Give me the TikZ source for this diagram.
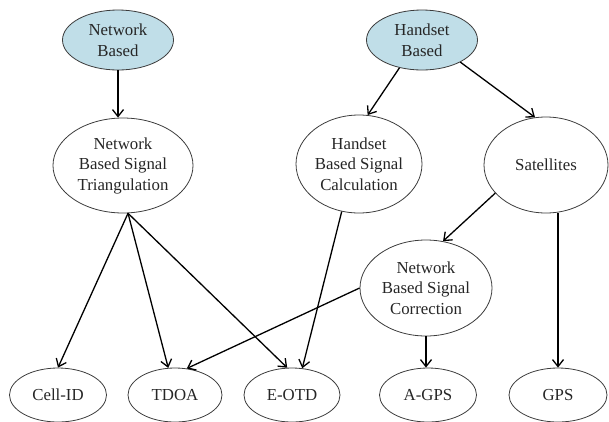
\documentclass[tikz,border=0pt]{standalone}
\usepackage{fontspec}
\setmainfont{Liberation Serif}
\usetikzlibrary{shapes.geometric,arrows.meta}
\definecolor{bluefill}{RGB}{192,222,232}
\definecolor{edgegray}{RGB}{60,60,60}
\tikzset{
  ell/.style={ellipse, draw=edgegray, line width=0.8pt, inner sep=0pt, align=center,
    font=\fontsize{16.8}{20.5}\selectfont, text=black!85},
  arr/.style={line width=1.3pt, -{Straight Barb[length=7pt,width=11pt,line width=1.3pt]}}
}
\begin{document}
\begin{tikzpicture}[x=1pt,y=-1pt]
\useasboundingbox (0,0) rectangle (609,421);
\node[ell, fill=bluefill, minimum width=111pt, minimum height=60pt] (nb) at (118,40) {Network\\Based};
\node[ell, fill=bluefill, minimum width=111pt, minimum height=60pt] (hb) at (422,40) {Handset\\Based};
\node[ell, minimum width=140pt, minimum height=95pt] (nbst) at (123,165.5) {Network\\Based Signal\\Triangulation};
\node[ell, minimum width=126pt, minimum height=98pt] (hbsc) at (359,164) {Handset\\Based Signal\\Calculation};
\node[ell, minimum width=124pt, minimum height=96pt] (sat) at (546,165) {Satellites};
\node[ell, minimum width=132pt, minimum height=96pt] (nbsc) at (426,288) {Network\\Based Signal\\Correction};
\node[ell, minimum width=97pt, minimum height=54pt] (cell) at (58,395) {Cell-ID};
\node[ell, minimum width=94pt, minimum height=54pt] (tdoa) at (175,395) {TDOA};
\node[ell, minimum width=96pt, minimum height=54pt] (eotd) at (292,395) {E-OTD};
\node[ell, minimum width=97pt, minimum height=54pt] (agps) at (428,395) {A-GPS};
\node[ell, minimum width=98pt, minimum height=54pt] (gps) at (558,395) {GPS};
\coordinate (o) at (nbst.276);
\draw[arr] (nb.south) -- (nb.south |- nbst.north);
\draw[arr] (hb.231) -- (hbsc.80);
\draw[arr] (hb.330) -- (sat.103);
\draw[arr] (o) -- (cell.north);
\draw[arr] (o) -- (tdoa.104);
\draw[arr] (o) -- (eotd.100);
\draw[arr] (hbsc.250) -- (eotd.69);
\draw[arr] (nbsc.west) -- (tdoa.66);
\draw[arr] (sat.209) -- (nbsc.70);
\draw[arr] (nbsc.south) -- (nbsc.south |- agps.north);
\draw[arr] (gps.north |- sat.south) -- (gps.north);
\end{tikzpicture}
\end{document}
